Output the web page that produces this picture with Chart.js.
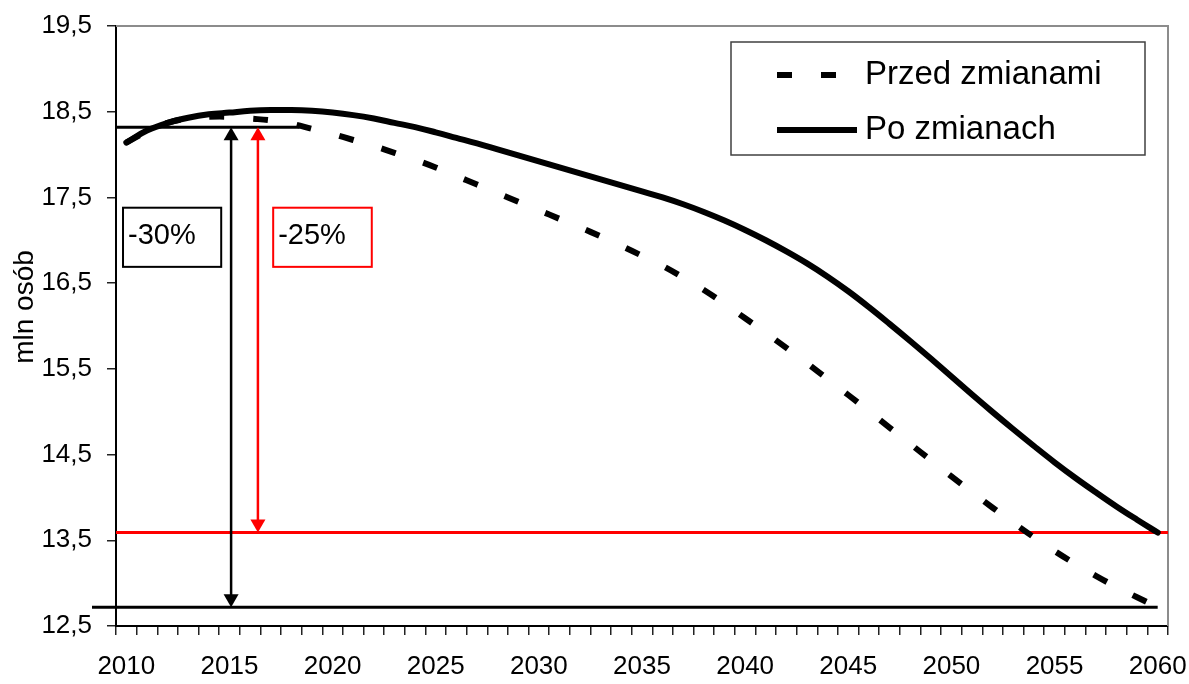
<!DOCTYPE html>
<html>
<head>
<meta charset="utf-8">
<script src="https://cdn.jsdelivr.net/npm/chart.js@4.4.0/dist/chart.umd.min.js"></script>
<style>
  html, body { margin: 0; padding: 0; background: #fff; }
</style>
</head>
<body>
<canvas id="myChart" width="1189" height="684"></canvas>
<script>
const years = ['2010','2011','2012','2013','2014','2015','2016','2017','2018','2019',
    '2020','2021','2022','2023','2024','2025','2026','2027','2028','2029',
    '2030','2031','2032','2033','2034','2035','2036','2037','2038','2039',
    '2040','2041','2042','2043','2044','2045','2046','2047','2048','2049',
    '2050','2051','2052','2053','2054','2055','2056','2057','2058','2059','2060'];

// Przed zmianami (dashed)
const przedZmianami = [18.14, 18.27, 18.37, 18.42, 18.44, 18.44, 18.42, 18.40, 18.36, 18.30,
    18.24, 18.17, 18.10, 18.02, 17.94, 17.85, 17.75, 17.65, 17.55, 17.45,
    17.35, 17.25, 17.15, 17.045, 16.935, 16.82, 16.70, 16.565, 16.42, 16.26,
    16.09, 15.92, 15.745, 15.565, 15.38, 15.195, 15.005, 14.815, 14.625, 14.435,
    14.245, 14.06, 13.88, 13.705, 13.535, 13.375, 13.225, 13.085, 12.955, 12.835, 12.72];

// Po zmianach (solid)
const poZmianach = [18.14, 18.28, 18.37, 18.43, 18.47, 18.49, 18.51, 18.52, 18.52, 18.51,
    18.49, 18.46, 18.42, 18.37, 18.32, 18.26, 18.195, 18.13, 18.06, 17.99,
    17.92, 17.85, 17.78, 17.71, 17.64, 17.57, 17.50, 17.42, 17.33, 17.23,
    17.12, 17.00, 16.87, 16.73, 16.575, 16.405, 16.22, 16.025, 15.825, 15.62,
    15.41, 15.20, 14.995, 14.795, 14.60, 14.41, 14.23, 14.06, 13.895, 13.74, 13.59];

// reference levels for the annotations (mln osob)
const startLevel = 18.32;
const endBefore = 12.72;   // -30%
const endAfter = 13.59;    // -25%
const pctLabels = ['-30%', '-25%'];

Chart.defaults.font.family = "'Liberation Sans', Arial, sans-serif";
Chart.defaults.color = '#000';

const arrow = (ctx, px, yTop, yBot, color) => {
    const h = 13, w = 7.5;
    ctx.strokeStyle = color;
    ctx.fillStyle = color;
    ctx.lineWidth = 2.5;
    ctx.beginPath();
    ctx.moveTo(px, yTop + h - 1);
    ctx.lineTo(px, yBot - h + 1);
    ctx.stroke();
    ctx.beginPath();
    ctx.moveTo(px, yTop); ctx.lineTo(px - w, yTop + h); ctx.lineTo(px + w, yTop + h); ctx.closePath();
    ctx.fill();
    ctx.beginPath();
    ctx.moveTo(px, yBot); ctx.lineTo(px - w, yBot - h); ctx.lineTo(px + w, yBot - h); ctx.closePath();
    ctx.fill();
};

const hline = (ctx, x1, x2, py, color) => {
    ctx.strokeStyle = color;
    ctx.lineWidth = 3;
    ctx.beginPath();
    ctx.moveTo(x1, py);
    ctx.lineTo(x2, py);
    ctx.stroke();
};

const extras = {
    id: 'extras',
    beforeDatasetsDraw(chart) {
        const { ctx, chartArea: a, scales: { x, y } } = chart;
        ctx.save();
        // grey frame top / right
        ctx.strokeStyle = '#8c8c8c';
        ctx.lineWidth = 2;
        ctx.beginPath();
        ctx.moveTo(a.left, a.top);
        ctx.lineTo(a.right, a.top);
        ctx.lineTo(a.right, a.bottom);
        ctx.stroke();

        hline(ctx, a.left, x.getPixelForValue(8.4), y.getPixelForValue(startLevel), '#000');
        hline(ctx, a.left - 24, x.getPixelForValue(50), y.getPixelForValue(endBefore), '#000');
        hline(ctx, a.left, a.right, y.getPixelForValue(endAfter), '#ff0000');

        arrow(ctx, x.getPixelForValue(5.08), y.getPixelForValue(startLevel), y.getPixelForValue(endBefore), '#000');
        arrow(ctx, x.getPixelForValue(6.38), y.getPixelForValue(startLevel), y.getPixelForValue(endAfter), '#ff0000');

        // label boxes
        const boxes = [[-0.16, 4.6, '#000'], [7.12, 11.9, '#ff0000']];
        const yt = y.getPixelForValue(17.38), yb = y.getPixelForValue(16.69);
        boxes.forEach((b, i) => {
            const x1 = x.getPixelForValue(b[0]), x2 = x.getPixelForValue(b[1]);
            ctx.fillStyle = '#fff';
            ctx.fillRect(x1, yt, x2 - x1, yb - yt);
            ctx.strokeStyle = b[2];
            ctx.lineWidth = 2;
            ctx.strokeRect(x1, yt, x2 - x1, yb - yt);
            ctx.fillStyle = '#000';
            ctx.font = "29px 'Liberation Sans', Arial, sans-serif";
            ctx.textAlign = 'left';
            ctx.textBaseline = 'middle';
            ctx.fillText(pctLabels[i], x1 + 5, yt + 28);
        });
        ctx.restore();
    },
    afterDraw(chart) {
        const { ctx, chartArea: a } = chart;
        ctx.save();
        // y axis title
        ctx.translate(25, (a.top + a.bottom) / 2 - 19);
        ctx.rotate(-Math.PI / 2);
        ctx.font = "28px 'Liberation Sans', Arial, sans-serif";
        ctx.fillStyle = '#000';
        ctx.textAlign = 'center';
        ctx.textBaseline = 'middle';
        ctx.fillText('mln osób', 0, 0);
        ctx.restore();

        // legend box
        ctx.save();
        const lx = a.right - 437, ly = a.top + 16, lw = 414, lh = 113;
        ctx.fillStyle = '#fff';
        ctx.fillRect(lx, ly, lw, lh);
        ctx.strokeStyle = '#404040';
        ctx.lineWidth = 1.5;
        ctx.strokeRect(lx, ly, lw, lh);
        ctx.font = "33px 'Liberation Sans', Arial, sans-serif";
        ctx.textAlign = 'left';
        ctx.textBaseline = 'middle';
        chart.data.datasets.forEach((ds, i) => {
            const ry = ly + 33 + i * 55;
            ctx.strokeStyle = ds.borderColor;
            ctx.lineWidth = ds.borderWidth;
            ctx.setLineDash(ds.borderDash || []);
            ctx.beginPath();
            ctx.moveTo(lx + 46, ry);
            ctx.lineTo(lx + 126, ry);
            ctx.stroke();
            ctx.setLineDash([]);
            ctx.fillStyle = '#000';
            ctx.fillText(ds.label, lx + 134, ry);
        });
        ctx.restore();
    }
};

const ctx = document.getElementById('myChart').getContext('2d');
const myChart = new Chart(ctx, {
    type: 'line',
    data: {
        labels: years,
        datasets: [
            {
                label: 'Przed zmianami',
                data: przedZmianami,
                borderColor: '#000',
                borderWidth: 6,
                borderDash: [15, 29],
                borderCapStyle: 'butt',
                pointRadius: 0,
                tension: 0.4,
                order: 2
            },
            {
                label: 'Po zmianach',
                data: poZmianach,
                borderColor: '#000',
                borderWidth: 6,
                borderCapStyle: 'round',
                pointRadius: 0,
                tension: 0.4,
                order: 1
            }
        ]
    },
    plugins: [extras],
    options: {
        responsive: false,
        animation: false,
        devicePixelRatio: 1,
        layout: { padding: { top: 26, right: 21, left: 0, bottom: 0 } },
        plugins: {
            legend: { display: false },
            tooltip: { enabled: false }
        },
        scales: {
            x: {
                offset: true,
                grid: { offset: true, drawOnChartArea: false, tickLength: 9, color: '#222', lineWidth: 1.5 },
                border: { color: '#000', width: 2 },
                ticks: {
                    autoSkip: false,
                    maxRotation: 0,
                    padding: 16,
                    font: { size: 26 },
                    callback: (val, idx) => (Number(years[idx]) % 5 === 0 ? years[idx] : '')
                },
                afterFit: (scale) => {
                    scale.height = 58;
                    scale.paddingLeft = 0;
                    scale.paddingRight = 0;
                }
            },
            y: {
                min: 12.5,
                max: 19.5,
                ticks: {
                    stepSize: 1,
                    padding: 15,
                    font: { size: 26 },
                    callback: (val) => val.toFixed(1).replace('.', ',')
                },
                grid: { drawOnChartArea: false, tickLength: 9, color: '#222', lineWidth: 1.5 },
                border: { color: '#000', width: 2 },
                afterFit: (scale) => {
                    scale.width = 116;
                    scale.paddingTop = 0;
                    scale.paddingBottom = 0;
                }
            }
        }
    }
});
</script>
</body>
</html>
